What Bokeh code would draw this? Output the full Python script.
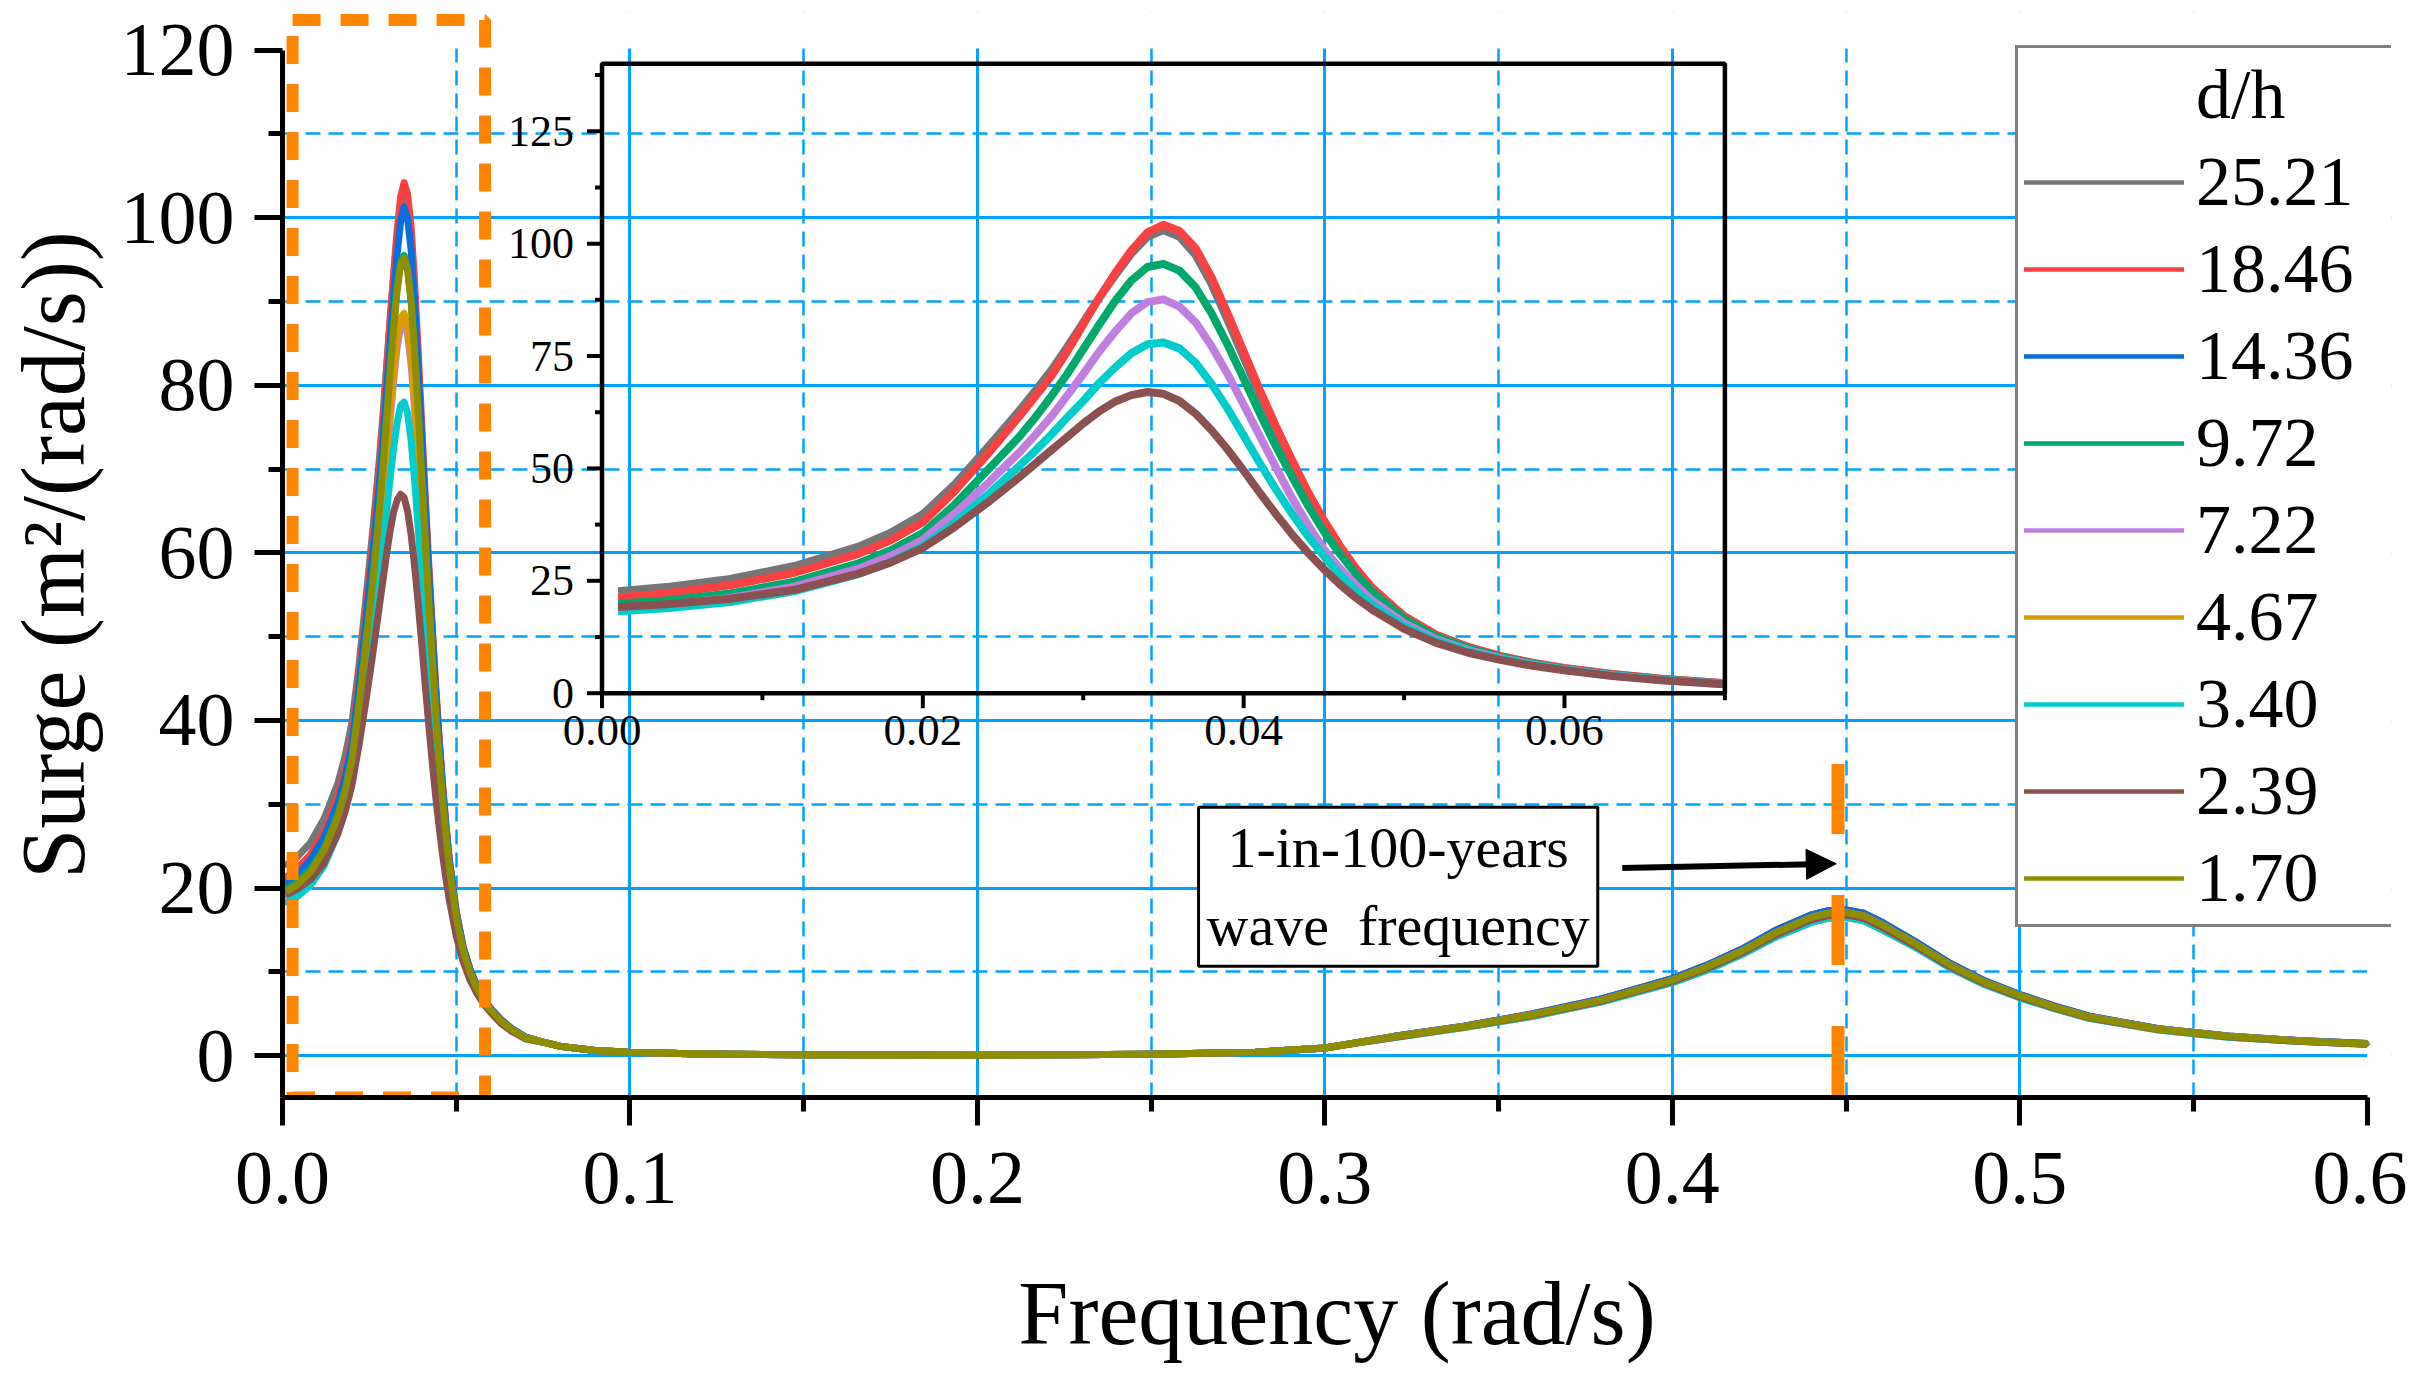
import math
from bokeh.plotting import figure
from bokeh.models import (Range1d, FixedTicker, NumeralTickFormatter,
                          Legend, LegendItem, Label, Arrow, NormalHead)
from bokeh.core.properties import value
from bokeh.embed import file_html
from bokeh.resources import INLINE

# ---------------- data ----------------
LABELS = ["25.21", "18.46", "14.36", "9.72", "7.22", "4.67", "3.40", "2.39", "1.70"]
COLORS = ["#767676", "#FA4040", "#0A6EDC", "#00A86B", "#C07EE0", "#DB9A08", "#00CCCC", "#8B5050", "#8E8E00"]

X_LOW = [0.001, 0.004, 0.008, 0.012, 0.016, 0.018, 0.020, 0.022, 0.024,
         0.026, 0.027, 0.028, 0.029, 0.030, 0.031, 0.032, 0.033, 0.034, 0.035,
         0.036, 0.037, 0.038, 0.039, 0.040, 0.041, 0.042, 0.043, 0.044, 0.045,
         0.046, 0.047, 0.048, 0.050, 0.052, 0.054, 0.056, 0.058, 0.060, 0.063,
         0.066, 0.070]

X_HIGH = [0.075, 0.08, 0.09, 0.10, 0.12, 0.15, 0.20, 0.25, 0.28, 0.30, 0.31, 0.32,
          0.33, 0.34, 0.36, 0.38, 0.40, 0.41, 0.42, 0.43, 0.44, 0.445, 0.45, 0.455,
          0.46, 0.47, 0.48, 0.49, 0.50, 0.51, 0.52, 0.54, 0.56, 0.58, 0.60]

LOW_2521 = [22.7, 23.6, 25.4, 28.3, 32.6, 35.7, 39.8, 46.5, 54.5,
            62.8, 67.2, 71.8, 77.0, 82.5, 88.0, 93.0, 97.8, 101.5, 103.0,
            101.5, 97.5, 91.0, 83.0, 74.7, 66.3, 58.5, 51.2, 44.2, 38.0,
            32.4, 27.5, 23.3, 17.1, 12.9, 10.2, 8.2, 6.7, 5.5, 4.2, 3.2, 2.2]
LOW_1846 = [21.3, 22.2, 24.0, 26.8, 31.0, 34.0, 38.0, 45.0, 53.0,
            61.5, 66.0, 70.5, 76.0, 82.0, 88.0, 93.5, 98.5, 102.5, 104.2,
            102.8, 99.0, 92.5, 84.5, 76.0, 67.5, 59.5, 52.0, 44.8, 38.5,
            32.8, 27.8, 23.5, 17.2, 13.0, 10.3, 8.3, 6.8, 5.6, 4.3, 3.2, 2.2]
LOW_1436 = [20.6, 21.5, 23.3, 26.1, 30.2, 33.2, 37.1, 44.0, 51.8,
            60.0, 64.3, 68.8, 74.0, 79.5, 85.3, 90.8, 95.7, 99.6, 101.3,
            99.9, 96.2, 90.0, 82.4, 74.3, 66.2, 58.4, 51.2, 44.2, 38.0,
            32.4, 27.5, 23.3, 17.1, 12.9, 10.2, 8.2, 6.7, 5.5, 4.2, 3.2, 2.2]
LOW_972 = [19.9, 20.6, 22.2, 24.8, 28.9, 31.8, 35.6, 42.0, 49.5,
           57.0, 61.3, 66.0, 71.0, 76.5, 82.0, 87.3, 91.8, 94.8, 95.5,
           94.0, 90.3, 84.5, 77.5, 70.0, 62.3, 55.0, 48.3, 41.8, 36.0,
           31.0, 26.5, 22.6, 16.6, 12.6, 10.0, 8.1, 6.6, 5.4, 4.1, 3.1, 2.1]
LOW_722 = [19.0, 19.7, 21.2, 23.7, 27.7, 30.5, 34.1, 40.0, 46.5,
           53.5, 57.4, 61.5, 66.2, 71.0, 76.0, 80.5, 84.5, 87.0, 87.6,
           86.0, 82.5, 77.2, 71.0, 64.2, 57.2, 50.3, 43.5, 37.5, 32.0,
           27.8, 24.0, 20.7, 15.6, 12.0, 9.6, 7.8, 6.4, 5.3, 4.0, 3.0, 2.1]
LOW_467 = [19.3, 20.0, 21.5, 24.0, 28.0, 30.9, 34.6, 40.6, 47.2,
           54.2, 58.1, 62.3, 67.0, 72.0, 77.0, 81.5, 85.5, 88.0, 88.6,
           87.0, 83.5, 78.0, 71.8, 65.0, 58.0, 51.0, 44.2, 38.1, 32.6,
           28.2, 24.3, 20.9, 15.7, 12.1, 9.6, 7.8, 6.4, 5.3, 4.0, 3.0, 2.1]
LOW_340 = [18.2, 18.9, 20.3, 22.7, 26.5, 29.2, 32.7, 38.0, 44.0,
           50.5, 53.9, 57.5, 61.3, 65.0, 69.0, 72.5, 75.6, 77.6, 78.0,
           76.7, 73.5, 68.8, 63.3, 57.3, 51.2, 45.4, 40.0, 35.0, 30.5,
           26.4, 22.8, 19.7, 14.9, 11.6, 9.3, 7.6, 6.3, 5.2, 3.9, 3.0, 2.0]
LOW_239 = [19.2, 19.8, 21.0, 23.0, 26.6, 29.1, 32.3, 37.0, 42.3,
           48.0, 51.0, 54.0, 57.0, 60.0, 62.7, 64.9, 66.3, 67.0, 66.6,
           65.0, 62.2, 58.5, 54.2, 49.5, 44.6, 39.9, 35.4, 31.3, 27.6,
           24.2, 21.2, 18.6, 14.3, 11.2, 9.0, 7.4, 6.1, 5.1, 3.8, 2.9, 2.0]
LOW_170 = [19.6, 20.3, 21.9, 24.5, 28.6, 31.5, 35.3, 41.6, 49.0,
           56.5, 60.8, 65.5, 70.5, 76.0, 81.5, 86.8, 91.3, 94.4, 95.2,
           93.7, 90.0, 84.2, 77.2, 69.7, 62.0, 54.7, 48.0, 41.6, 35.8,
           30.8, 26.4, 22.5, 16.5, 12.5, 9.9, 8.0, 6.5, 5.4, 4.1, 3.1, 2.1]

HIGH_A = [1.6, 1.1, 0.6, 0.4, 0.2, 0.1, 0.05, 0.15, 0.4, 0.9, 1.6, 2.3,
          2.9, 3.5, 5.0, 6.8, 9.2, 10.8, 12.7, 15.0, 16.8, 17.3, 17.4, 17.0,
          16.0, 13.6, 11.0, 8.9, 7.3, 5.9, 4.7, 3.2, 2.35, 1.8, 1.45]
HIGH_B = [1.6, 1.1, 0.6, 0.4, 0.2, 0.1, 0.05, 0.15, 0.4, 0.9, 1.6, 2.25,
          2.85, 3.45, 4.9, 6.65, 9.0, 10.6, 12.45, 14.7, 16.5, 17.0, 17.1, 16.7,
          15.7, 13.35, 10.8, 8.75, 7.15, 5.8, 4.6, 3.15, 2.3, 1.75, 1.4]
HIGH_C = [1.6, 1.1, 0.6, 0.4, 0.2, 0.1, 0.05, 0.15, 0.4, 0.9, 1.55, 2.2,
          2.8, 3.4, 4.8, 6.55, 8.85, 10.4, 12.25, 14.45, 16.2, 16.7, 16.8, 16.4,
          15.4, 13.1, 10.6, 8.6, 7.0, 5.7, 4.5, 3.1, 2.25, 1.7, 1.35]
HIGH_D = [1.6, 1.1, 0.6, 0.4, 0.2, 0.1, 0.05, 0.15, 0.4, 0.9, 1.55, 2.15,
          2.75, 3.35, 4.7, 6.45, 8.7, 10.2, 12.05, 14.2, 15.9, 16.4, 16.5, 16.1,
          15.1, 12.9, 10.45, 8.45, 6.9, 5.6, 4.45, 3.05, 2.2, 1.7, 1.35]

LOWS = [LOW_2521, LOW_1846, LOW_1436, LOW_972, LOW_722, LOW_467, LOW_340, LOW_239, LOW_170]
HIGHS = [HIGH_A, HIGH_A, HIGH_A, HIGH_B, HIGH_B, HIGH_D, HIGH_D, HIGH_C, HIGH_B]
INSET_IDX = [0, 1, 3, 4, 6, 7]

X_TICKS = [0.0, 0.1, 0.2, 0.3, 0.4, 0.5, 0.6]
X_MINOR = [0.05, 0.15, 0.25, 0.35, 0.45, 0.55]
Y_TICKS = [0, 20, 40, 60, 80, 100, 120]
Y_MINOR = [10, 30, 50, 70, 90, 110]
X_GRID_MAJOR = [0.1, 0.2, 0.3, 0.4, 0.5]
Y_GRID_MAJOR = [0, 20, 40, 60, 80, 100]

INSET_Y_MAJOR = [0, 25, 50, 75, 100, 125]
INSET_Y_MINOR = [12.5, 37.5, 62.5, 87.5, 112.5, 137.5]
INSET_X_MAJOR = [0.0, 0.02, 0.04, 0.06]
INSET_X_MINOR = [0.01, 0.03, 0.05, 0.07]
INSET_X_LABELS = ["0.00", "0.02", "0.04", "0.06"]
INSET_Y_LABELS = ["0", "25", "50", "75", "100", "125"]

WAVE_FREQ = 0.4477

# ---------------- layout ----------------
FONT = "Liberation Serif"
GRID = "#00A2FF"
ORANGE = "#FF8400"
FL, FT, FW, FH = 275, 12, 2109, 1085
X0, X1 = 0.0, 0.607
Y0, Y1 = -5.0, 124.5

p = figure(frame_width=FW, frame_height=FH,
           x_range=Range1d(X0, X1), y_range=Range1d(Y0, Y1),
           min_border_left=FL, min_border_top=FT, min_border_right=16, min_border_bottom=266,
           output_backend="svg", toolbar_location=None)
p.outline_line_color = None
p.background_fill_color = "white"
p.border_fill_color = "white"

# axes
for ax in (p.xaxis[0], p.yaxis[0]):
    ax.axis_line_width = 5
    ax.major_tick_line_width = 5
    ax.minor_tick_line_width = 5
    ax.major_tick_in = 0
    ax.minor_tick_in = 0
    ax.major_tick_out = 28
    ax.minor_tick_out = 14
    ax.major_label_text_font = FONT
    ax.major_label_text_font_size = "76px"
    ax.major_label_text_color = "black"
    ax.axis_label_text_font = FONT
    ax.axis_label_text_font_size = "90px"
    ax.axis_label_text_font_style = "normal"
    ax.axis_label_text_color = "black"

xa = p.xaxis[0]
xa.ticker = FixedTicker(ticks=X_TICKS, minor_ticks=X_MINOR)
xa.formatter = NumeralTickFormatter(format="0.0")
xa.bounds = (0, 0.6)
xa.major_label_standoff = 27
xa.axis_label = "Frequency (rad/s)"
xa.axis_label_standoff = 58
xa.axis_label_text_line_height = 1.0

ya = p.yaxis[0]
ya.ticker = FixedTicker(ticks=Y_TICKS, minor_ticks=Y_MINOR)
ya.formatter = NumeralTickFormatter(format="0")
ya.bounds = (-5, 120)
ya.major_label_standoff = 20
ya.axis_label = "Surge (m\u00b2/(rad/s))"
ya.axis_label_standoff = 15

# grids
p.xgrid.ticker = FixedTicker(ticks=X_GRID_MAJOR, minor_ticks=X_MINOR)
p.ygrid.ticker = FixedTicker(ticks=Y_GRID_MAJOR, minor_ticks=Y_MINOR)
for g in (p.xgrid[0], p.ygrid[0]):
    g.grid_line_color = GRID
    g.grid_line_width = 3
    g.minor_grid_line_color = GRID
    g.minor_grid_line_width = 2.5
    g.minor_grid_line_dash = "15 8"

# mask the grid above the top tick and right of the last tick
p.quad(left=[X0], right=[X1], bottom=[120.2], top=[Y1 + 2], fill_color="white", line_alpha=0)
p.quad(left=[0.6], right=[X1 + 0.01], bottom=[Y0 - 2], top=[Y1 + 2], fill_color="white", line_alpha=0)

# thin legend proxies (drawn first, fully hidden under the thick curves)
proxies = []
for i, lab in enumerate(LABELS):
    proxies.append(p.line(X_LOW + X_HIGH, LOWS[i] + HIGHS[i], line_color=COLORS[i],
                          line_width=4.5, line_cap="round"))

# main curves
for i, lab in enumerate(LABELS):
    p.line(X_LOW + X_HIGH, LOWS[i] + HIGHS[i], line_color=COLORS[i], line_width=7,
           line_join="round")

# inset ranges, computed from the pixel box of the inset
IL, IR, IT, IB = 594.5, 1717.4, 63.3, 692.7
IXMAX, IYMAX = 0.07, 140.0
kx = (IR - IL) / IXMAX
ky = (IB - IT) / IYMAX
p.extra_x_ranges = {"ix": Range1d(0 - (IL - FL) / kx, IXMAX + (FL + FW - IR) / kx)}
p.extra_y_ranges = {"iy": Range1d(0 - (FT + FH - IB) / ky, IYMAX + (IT - FT) / ky)}
kw = dict(x_range_name="ix", y_range_name="iy")

for i in INSET_IDX:
    p.line(X_LOW, LOWS[i], line_color=COLORS[i], line_width=8, line_join="round", **kw)

# inset frame & ticks
p.quad(left=[0], right=[IXMAX], bottom=[0], top=[IYMAX], fill_alpha=0,
       line_color="black", line_width=4.5, **kw)
p.ray(x=[0] * len(INSET_Y_MAJOR), y=INSET_Y_MAJOR, length=15, length_units="screen",
      angle=math.pi, line_color="black", line_width=4, **kw)
p.ray(x=[0] * len(INSET_Y_MINOR), y=INSET_Y_MINOR, length=7, length_units="screen",
      angle=math.pi, line_color="black", line_width=4, **kw)
p.ray(x=INSET_X_MAJOR, y=[0] * len(INSET_X_MAJOR), length=15, length_units="screen",
      angle=-math.pi / 2, line_color="black", line_width=4, **kw)
p.ray(x=INSET_X_MINOR, y=[0] * len(INSET_X_MINOR), length=7, length_units="screen",
      angle=-math.pi / 2, line_color="black", line_width=4, **kw)
p.text(x=[0] * len(INSET_Y_MAJOR), y=INSET_Y_MAJOR, text=INSET_Y_LABELS, x_offset=-28,
       text_align="right", text_baseline="middle", text_font=value(FONT),
       text_font_size="44px", text_color="black", **kw)
p.text(x=INSET_X_MAJOR, y=[0] * len(INSET_X_MAJOR), text=INSET_X_LABELS, y_offset=23,
       text_align="center", text_baseline="top", text_font=value(FONT),
       text_font_size="45px", text_color="black", **kw)

# orange dashed zoom box and wave-frequency marker
p.quad(left=[0.0029], right=[0.0583], bottom=[-5.0], top=[123.6], fill_alpha=0,
       line_color=ORANGE, line_width=12, line_dash="28 20")
p.segment(x0=[WAVE_FREQ], y0=[34.8], x1=[WAVE_FREQ], y1=[-5.0], line_color=ORANGE,
          line_width=13, line_dash="70 61")

# annotation
ann = Label(x=0.3211, y=20.15, text="1-in-100-years\nwave\u00a0\u00a0frequency",
            text_align="center", text_baseline="middle", text_font=FONT,
            text_font_size="58px", text_color="black",
            border_line_color="black", border_line_width=3,
            background_fill_color="white", background_fill_alpha=1.0, padding=8)
p.add_layout(ann)
p.add_layout(Arrow(end=NormalHead(size=30, fill_color="black", line_color="black", line_width=1),
                   x_start=0.3856, y_start=22.4, x_end=WAVE_FREQ - 0.0005, y_end=22.9,
                   line_color="black", line_width=6))

# legend
dummy = p.line(x=[], y=[], line_alpha=0)
items = [LegendItem(label="d/h", renderers=[dummy])]
items += [LegendItem(label=lab, renderers=[proxies[i]]) for i, lab in enumerate(LABELS)]
legend = Legend(items=items, location=(1733, 170),
                label_text_font=FONT, label_text_font_size="70px", label_text_color="black",
                glyph_width=160, glyph_height=40, label_standoff=12, label_width=189,
                label_height=81, spacing=6, padding=6,
                border_line_color="black", border_line_width=3,
                background_fill_color="white", background_fill_alpha=1.0)
p.add_layout(legend)

open("out.html", "w").write(file_html(p, INLINE))
